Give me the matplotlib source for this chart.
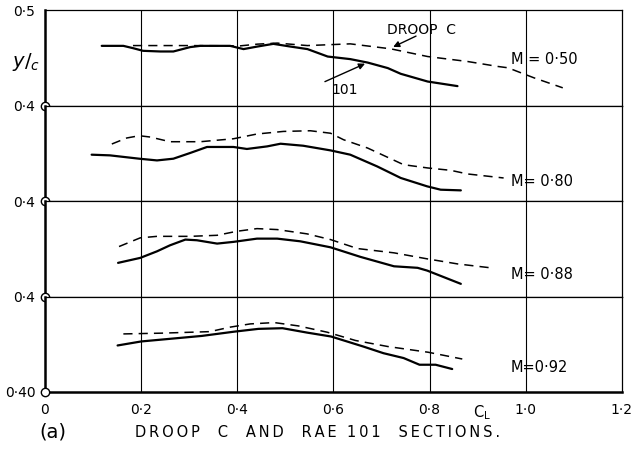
import numpy as np
import matplotlib
matplotlib.use('Agg')
import matplotlib.pyplot as plt

""" datos: y/c contra CL, perfil RAE 101 (continua) y DROOP C (trazos) """
mach_labels = ['M = 0·50', 'M= 0·80', 'M= 0·88', 'M=0·92']

cl_101_050 = [0.118, 0.163, 0.183, 0.204, 0.240, 0.267, 0.302, 0.323, 0.385, 0.413,
              0.442, 0.475, 0.510, 0.546, 0.588, 0.635, 0.671, 0.713, 0.740, 0.796, 0.858]
yc_101_050 = [0.4628, 0.4628, 0.4604, 0.4576, 0.4569, 0.4569, 0.4615, 0.4628, 0.4628, 0.4594,
              0.4621, 0.4649, 0.4621, 0.4594, 0.4516, 0.4489, 0.4453, 0.4395, 0.4335, 0.4254, 0.4206]
cl_dc_050 = [0.183, 0.296, 0.406, 0.442, 0.483, 0.546, 0.635, 0.719, 0.796, 0.879,
             0.942, 0.963, 1.017, 1.077]
yc_dc_050 = [0.4631, 0.4631, 0.4628, 0.4646, 0.4657, 0.4631, 0.4649, 0.4597, 0.4516, 0.4464,
             0.4412, 0.4398, 0.4293, 0.4188]

cl_101_080 = [0.097, 0.135, 0.196, 0.233, 0.267, 0.302, 0.337, 0.392, 0.420, 0.462,
              0.490, 0.537, 0.594, 0.635, 0.691, 0.740, 0.795, 0.823, 0.865]
yc_101_080 = [0.4487, 0.4480, 0.4445, 0.4427, 0.4445, 0.4505, 0.4568, 0.4568, 0.4547, 0.4574,
              0.4602, 0.4581, 0.4532, 0.4487, 0.4364, 0.4243, 0.4155, 0.4120, 0.4113]
cl_dc_080 = [0.139, 0.170, 0.196, 0.219, 0.260, 0.323, 0.392, 0.441, 0.496, 0.552,
             0.594, 0.621, 0.671, 0.746, 0.796, 0.844, 0.879, 0.954]
yc_dc_080 = [0.4599, 0.4662, 0.4686, 0.4672, 0.4623, 0.4623, 0.4654, 0.4704, 0.4731, 0.4738,
             0.4712, 0.4644, 0.4557, 0.4382, 0.4348, 0.4323, 0.4285, 0.4243]

cl_101_088 = [0.152, 0.198, 0.233, 0.260, 0.292, 0.316, 0.358, 0.392, 0.441, 0.483,
              0.531, 0.594, 0.656, 0.726, 0.775, 0.795, 0.865]
yc_101_088 = [0.4353, 0.4405, 0.4474, 0.4537, 0.4597, 0.4590, 0.4555, 0.4573, 0.4607, 0.4607,
              0.4579, 0.4516, 0.4416, 0.4317, 0.4301, 0.4272, 0.4133]
cl_dc_088 = [0.154, 0.198, 0.233, 0.302, 0.358, 0.399, 0.441, 0.483, 0.545, 0.594,
             0.650, 0.726, 0.795, 0.858, 0.927]
yc_dc_088 = [0.4524, 0.4615, 0.4631, 0.4631, 0.4642, 0.4684, 0.4712, 0.4702, 0.4657, 0.4597,
             0.4503, 0.4458, 0.4395, 0.4342, 0.4301]

cl_101_092 = [0.151, 0.200, 0.326, 0.394, 0.444, 0.494, 0.545, 0.595, 0.662, 0.704,
              0.746, 0.779, 0.8125, 0.847]
yc_101_092 = [0.4487, 0.4529, 0.4587, 0.4632, 0.4661, 0.4668, 0.4622, 0.4581, 0.4476, 0.4406,
              0.4355, 0.4285, 0.4285, 0.4240]
cl_dc_092 = [0.163, 0.242, 0.343, 0.385, 0.427, 0.477, 0.527, 0.587, 0.646, 0.713,
             0.797, 0.868]
yc_dc_092 = [0.4608, 0.4616, 0.4632, 0.4679, 0.4713, 0.4727, 0.4692, 0.4626, 0.4539, 0.4476,
             0.4416, 0.4345]

x_ticks = [0, 0.2, 0.4, 0.6, 0.8, 1.0, 1.2]
x_ticklabels = ['0', '0·2', '0·4', '0·6', '0·8', '1·0', '1·2']
y_bottom_labels = ['0·4', '0·4', '0·4', '0·40']
titulo = 'DROOP  C  AND  RAE 101  SECTIONS.'

series = [
    (cl_101_050, yc_101_050, cl_dc_050, yc_dc_050),
    (cl_101_080, yc_101_080, cl_dc_080, yc_dc_080),
    (cl_101_088, yc_101_088, cl_dc_088, yc_dc_088),
    (cl_101_092, yc_101_092, cl_dc_092, yc_dc_092),
]
mach_label_y = [0.4482, 0.4204, 0.4230, 0.4251]

plt.rcParams['font.family'] = 'DejaVu Sans'

fig, axs = plt.subplots(4, 1, sharex=True, figsize=(6.32, 4.51), dpi=100,
                        gridspec_kw={'hspace': 0})
fig.subplots_adjust(left=0.0712, right=0.984, top=0.977, bottom=0.131)

for i, ax in enumerate(axs):
    c101, y101, cdc, ydc = series[i]
    ax.set_xlim(0, 1.2)
    ax.set_ylim(0.4, 0.5)
    for xv in x_ticks[1:-1]:
        ax.axvline(xv, color='black', lw=0.8)
    ax.plot(c101, y101, color='black', lw=1.6, solid_capstyle='round')
    ax.plot(cdc, ydc, color='black', lw=1.1, linestyle=(0, (6, 4)))
    ax.text(0.969, mach_label_y[i], mach_labels[i], fontsize=10.5, va='center', ha='left')

    for s in ax.spines.values():
        s.set_linewidth(0.9)
    ax.spines['left'].set_linewidth(1.8)
    ax.tick_params(length=0, labelsize=10, pad=7)
    if i == 0:
        ax.set_yticks([0.4, 0.5])
        ax.set_yticklabels([y_bottom_labels[i], '0·5'])
    else:
        ax.set_yticks([0.4])
        ax.set_yticklabels([y_bottom_labels[i]])
    # circulitos en el eje vertical
    ax.plot([0], [0.4], marker='o', ms=6, mfc='white', mec='black', mew=1.0,
            clip_on=False, zorder=5)

axs[-1].spines['bottom'].set_linewidth(1.8)
axs[-1].set_xticks(x_ticks)
axs[-1].set_xticklabels(x_ticklabels)
axs[-1].tick_params(axis='x', pad=8)
axs[-1].text(0.908, 0.388, 'C$_\\mathrm{L}$', fontsize=10.5, ha='center', va='top')

# etiquetas con flecha del panel superior
ax0 = axs[0]
ax0.text(0.783, 0.4796, 'DROOP  C', fontsize=10, ha='center', va='center')
ax0.annotate('', xy=(0.719, 0.4604), xytext=(0.777, 0.4743),
             arrowprops=dict(arrowstyle='-|>', color='black', lw=1.0, mutation_scale=9))
ax0.text(0.624, 0.4168, '101', fontsize=10, ha='center', va='center')
ax0.annotate('', xy=(0.671, 0.4453), xytext=(0.577, 0.4241),
             arrowprops=dict(arrowstyle='-|>', color='black', lw=1.0, mutation_scale=9))

fig.text(0.042, 0.862, '$y/_{c}$', fontsize=14, ha='center', va='center')
fig.text(0.084, 0.042, '(a)', fontsize=14, ha='center', va='center')
# rotulo espaciado, letra a letra
fig.text(0.503, 0.042, '\u2009'.join(titulo), fontsize=10.5,
         ha='center', va='center')

fig.savefig('out.png', dpi=100)
